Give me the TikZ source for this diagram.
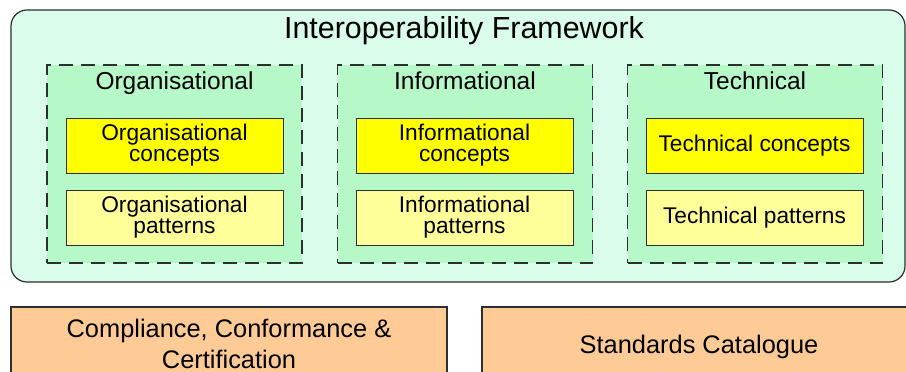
\documentclass[tikz,border=0pt]{standalone}
\usepackage{fontspec}
\setmainfont{Liberation Sans}
\definecolor{framefill}{HTML}{D9FDEA}
\definecolor{layerfill}{HTML}{B6F8C7}
\definecolor{conceptfill}{HTML}{FFFF00}
\definecolor{patternfill}{HTML}{FFFF99}
\definecolor{basefill}{HTML}{FECB96}
\definecolor{edge}{HTML}{2E2E2E}
% two centred lines with a fixed line pitch, lifted slightly in the box
\newcommand{\twolines}[2]{\raisebox{2pt}{\begin{tabular}{@{}c@{}}#1\\#2\end{tabular}}}
\tikzset{
  framebox/.style={draw=edge, line width=1.2pt, fill=framefill, rounded corners=16pt,
    minimum width=894pt, minimum height=272pt, inner sep=0pt},
  layerbox/.style={draw=edge, line width=1.6pt, fill=layerfill, dash pattern=on 14pt off 8pt,
    minimum width=255pt, minimum height=198pt, inner sep=0pt},
  conceptbox/.style={draw=edge, line width=1pt, fill=conceptfill,
    minimum width=217pt, minimum height=55pt, inner sep=0pt, align=center,
    font=\fontsize{22.7}{20.5}\selectfont},
  patternbox/.style={conceptbox, fill=patternfill},
  basebox/.style={draw=edge, line width=1.2pt, fill=basefill, inner sep=0pt},
  titletext/.style={anchor=base, inner sep=0pt, font=\fontsize{30.4}{30.4}\selectfont},
  layertext/.style={anchor=base, inner sep=0pt, font=\fontsize{24.5}{24.5}\selectfont},
  basetext/.style={inner sep=0pt, align=center, font=\fontsize{25.4}{31}\selectfont},
}
\begin{document}
\begin{tikzpicture}[x=1pt, y=-1pt]
\useasboundingbox[fill=white] (0,0) rectangle (906,372);
\begin{scope}
\clip (0,0) rectangle (906,372);

% framework container
\node[framebox] (frame) at (458,146) {};
\node[titletext] (title) at (464,38) {Interoperability Framework};

% three interoperability layers
\node[layerbox] (org) at (174.5,164) {};
\node[layerbox] (inf) at (465,164) {};
\node[layerbox] (tec) at (755,164) {};
\node[layertext] (orgT) at (174.5,89) {Organisational};
\node[layertext] (infT) at (465,89) {Informational};
\node[layertext] (tecT) at (755,89) {Technical};

% concepts and patterns per layer
\node[conceptbox] (orgC) at (174.5,145.5) {\twolines{Organisational}{concepts}};
\node[patternbox] (orgP) at (174.5,218) {\twolines{Organisational}{patterns}};
\node[conceptbox] (infC) at (464.5,145.5) {\twolines{Informational}{concepts}};
\node[patternbox] (infP) at (464.5,218) {\twolines{Informational}{patterns}};
\node[conceptbox] (tecC) at (754.5,145.5) {Technical concepts};
\node[patternbox] (tecP) at (754.5,218) {Technical patterns};

% supporting blocks below the framework
\node[basebox, minimum width=436pt, minimum height=100pt] (ccc) at (229,357) {};
\node[basebox, minimum width=436pt, minimum height=100pt] (cat) at (700,357) {};
\node[basetext] (cccT) at (229,344) {Compliance, Conformance \&\\Certification};
\node[basetext, anchor=base] (catT) at (699,353) {Standards Catalogue};
\end{scope}
\end{tikzpicture}
\end{document}
